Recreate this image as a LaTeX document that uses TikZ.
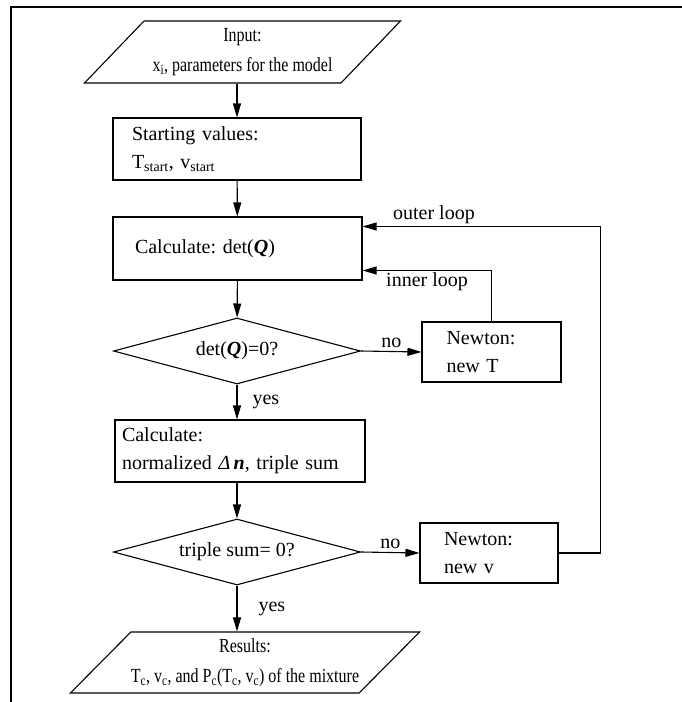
\documentclass[tikz,border=0pt]{standalone}
\usepackage{fontspec}
\setmainfont{Liberation Serif}
\newfontfamily\narrowserif[FakeStretch=0.8]{Liberation Serif}
\usetikzlibrary{arrows.meta,calc,shapes.geometric,positioning}

\begin{document}
\frenchspacing
\begin{tikzpicture}[
  x=1pt, y=-1pt,
  font=\fontsize{20}{28}\selectfont,
  procbox/.style={draw, line width=1.1pt, minimum height=62pt, inner sep=0pt, align=left},
  iobox/.style={draw, line width=1.1pt, trapezium, trapezium left angle=38.5, trapezium right angle=141.5,
                trapezium stretches body, minimum width=316pt, minimum height=62pt,
                inner sep=0pt, align=center, font=\narrowserif\fontsize{20}{30}\selectfont},
  decide/.style={draw, line width=1.1pt, diamond, aspect=3.7, minimum width=247pt, minimum height=66pt, inner sep=0pt},
  flow/.style={-{Triangle[length=14pt, width=8pt]}, line width=1.1pt},
  lbl/.style={inner sep=1pt},
]
\useasboundingbox (0,0) rectangle (682,702);

% frame, open at right and bottom
\draw[line width=2pt] (11,702) -- (11,7) -- (682,7);

% =========================== main column ===========================
\node[iobox] (in) at (242.5, 52) {Input:\\x\textsubscript{i}, parameters for the model};
\node[procbox, minimum width=248pt, text width=210pt] (start) at (237, 149)
  {Starting values:\\T\textsubscript{start}, v\textsubscript{start}};
\node[procbox, minimum width=249pt, minimum height=63pt, text width=205pt] (calcq) at (237.5, 248.5)
  {Calculate: det(\textbf{\textit{Q}})};
\node[decide] (dq) at (237, 351) {det(\textbf{\textit{Q}})=0?};
\node[procbox, minimum width=250pt, text width=236pt] (calcn) at (240, 451)
  {Calculate:\\normalized \textit{Δ}\,\textbf{\textit{n}}, triple sum};
\node[decide] (ts) at (237, 552) {triple sum= 0?};
\node[iobox, minimum height=61pt] (res) at (245, 662.5)
  {Results:\\T\textsubscript{c}, v\textsubscript{c}, and P\textsubscript{c}(T\textsubscript{c}, v\textsubscript{c}) of the mixture};

% =========================== Newton steps ===========================
\node[procbox, minimum width=139pt, minimum height=60pt, text width=90pt] (newT) at (491.5, 352)
  {Newton:\\new T};
\node[procbox, minimum width=138pt, minimum height=60pt, text width=90pt] (newv) at (489, 553)
  {Newton:\\new v};

% flow down the column
\draw[flow] (start.north |- in.south) -- (start);
\draw[flow] (start) -- (calcq);
\draw[flow] (calcq) -- (dq);
\draw[flow] (dq.south) -- (dq.south |- calcn.north) node[midway, right=14pt, lbl] {yes};
\draw[flow] (calcn.south -| dq.south) -- (ts.north);
\draw[flow] (ts.south) -- (ts.south |- res.north) node[midway, right=20pt, lbl] {yes};

% branches and loops
\draw[flow] (dq.east) -- (newT.west) node[midway, above=2pt, lbl] {no};
\draw[flow] (ts.east) -- (newv.west) node[midway, above=2pt, lbl] {no};
\draw[flow] (newT.north) |- ([yshift=-22pt]calcq.east)
  node[pos=0.75, below=1pt, lbl] {inner loop};
\draw[flow] (newv.east) -- ++(42,0) |- ([yshift=22pt]calcq.east)
  node[pos=0.85, above=1pt, lbl] {outer loop};

\end{tikzpicture}
\end{document}
